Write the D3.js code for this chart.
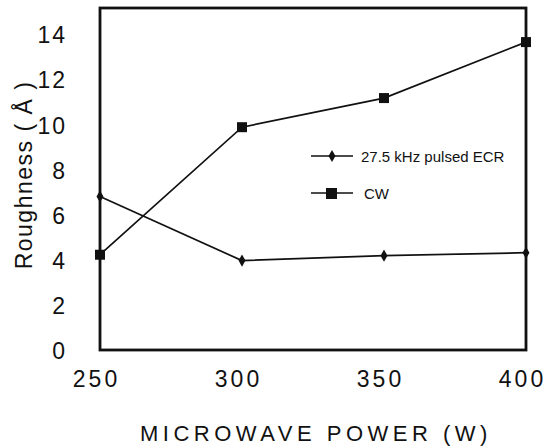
<!DOCTYPE html>
<html>
  <head>
    <script type="text/javascript" src="https://cdn.jsdelivr.net/npm/d3@7"></script>
    <style>
      body { margin: 0; background: #fff; }
      text { font-family: "Liberation Sans", Arial, sans-serif; fill: #111; }
    </style>
  </head>
  <body>
    <script type="text/javascript">
      WIDTH = 558
      HEIGHT = 448

      // plot box edges in pixels
      LEFT = 100
      RIGHT = 526
      TOP = 8
      BOTTOM = 350

      // the data
      var power = [250, 300, 350, 400]
      var pulsed = [6.8, 3.96, 4.18, 4.31]
      var cw = [4.22, 9.87, 11.16, 13.64]
      var yTicks = [0, 2, 4, 6, 8, 10, 12, 14]
      var xTicks = [250, 300, 350, 400]
      var seriesNames = ["27.5 kHz pulsed ECR", "CW"]

      var svg = d3.select("body")
            .append("svg")
            .attr("width", WIDTH)
            .attr("height", HEIGHT)

      var xscale = d3.scaleLinear().domain([250, 400]).range([LEFT, RIGHT])
      var yscale = d3.scaleLinear().domain([0, 15.15]).range([BOTTOM, TOP])

      // y tick labels, no tick marks
      var yAxis = d3.axisLeft(yscale).tickValues(yTicks).tickSize(0).tickPadding(33)
      var gy = svg.append("g").attr("transform", "translate(" + LEFT + ",0)").call(yAxis)
      gy.select(".domain").remove()
      gy.selectAll("text")
        .style("font-family", "Liberation Sans, Arial, sans-serif")
        .style("font-size", "23px")
        .style("letter-spacing", "2px")
        .attr("fill", "#111")
        .attr("dy", "0.38em")

      // x tick labels
      var xAxis = d3.axisBottom(xscale).tickValues(xTicks).tickSize(0).tickPadding(21)
      var gx = svg.append("g").attr("transform", "translate(0," + BOTTOM + ")").call(xAxis)
      gx.select(".domain").remove()
      gx.selectAll("text")
        .style("font-family", "Liberation Sans, Arial, sans-serif")
        .style("font-size", "23px")
        .style("letter-spacing", "3px")
        .attr("fill", "#111")
        .attr("dx", "-4px")

      // axis titles
      svg.append("text")
        .attr("transform", "translate(32,175) rotate(-90)")
        .attr("text-anchor", "middle")
        .style("font-size", "23px")
        .style("letter-spacing", "1.5px")
        .text("Roughness ( Å )")

      svg.append("text")
        .attr("x", 316)
        .attr("y", 441)
        .attr("text-anchor", "middle")
        .style("font-size", "22px")
        .style("letter-spacing", "4.5px")
        .text("MICROWAVE POWER (W)")

      // the series lines
      var line = d3.line()
        .x(function(d) { return xscale(d[0]) })
        .y(function(d) { return yscale(d[1]) })

      var pulsedPts = d3.zip(power, pulsed)
      var cwPts = d3.zip(power, cw)

      svg.append("path").datum(pulsedPts)
        .attr("d", line).attr("fill", "none")
        .attr("stroke", "#111").attr("stroke-width", 1.7)
      svg.append("path").datum(cwPts)
        .attr("d", line).attr("fill", "none")
        .attr("stroke", "#111").attr("stroke-width", 1.7)

      // plot frame
      svg.append("rect")
        .attr("x", LEFT).attr("y", TOP)
        .attr("width", RIGHT - LEFT).attr("height", BOTTOM - TOP)
        .attr("fill", "none").attr("stroke", "#111").attr("stroke-width", 2.8)

      // markers
      var diamond = d3.symbol().type(d3.symbolDiamond).size(42)
      svg.selectAll(".pmark").data(pulsedPts).enter()
        .append("path").attr("class", "pmark")
        .attr("d", diamond)
        .attr("transform", function(d) { return "translate(" + xscale(d[0]) + "," + yscale(d[1]) + ")" })
        .attr("fill", "#111")
      svg.selectAll(".cmark").data(cwPts).enter()
        .append("rect").attr("class", "cmark")
        .attr("x", function(d) { return xscale(d[0]) - 5 })
        .attr("y", function(d) { return yscale(d[1]) - 5 })
        .attr("width", 10).attr("height", 10)
        .attr("fill", "#111")

      // legend
      var leg = svg.append("g").attr("transform", "translate(311,156)")
      leg.append("line").attr("x1", 0).attr("x2", 42).attr("y1", 0).attr("y2", 0)
        .attr("stroke", "#111").attr("stroke-width", 1.4)
      leg.append("path").attr("d", diamond).attr("transform", "translate(21,0)").attr("fill", "#111")
      leg.append("text").attr("x", 50).attr("y", 5.5)
        .style("font-size", "15px").text(seriesNames[0])

      leg.append("line").attr("x1", 0).attr("x2", 42).attr("y1", 37).attr("y2", 37)
        .attr("stroke", "#111").attr("stroke-width", 1.4)
      leg.append("rect").attr("x", 15).attr("y", 32).attr("width", 11).attr("height", 11).attr("fill", "#111")
      leg.append("text").attr("x", 53).attr("y", 42.5)
        .style("font-size", "15px").text(seriesNames[1])
    </script>
  </body>
</html>
